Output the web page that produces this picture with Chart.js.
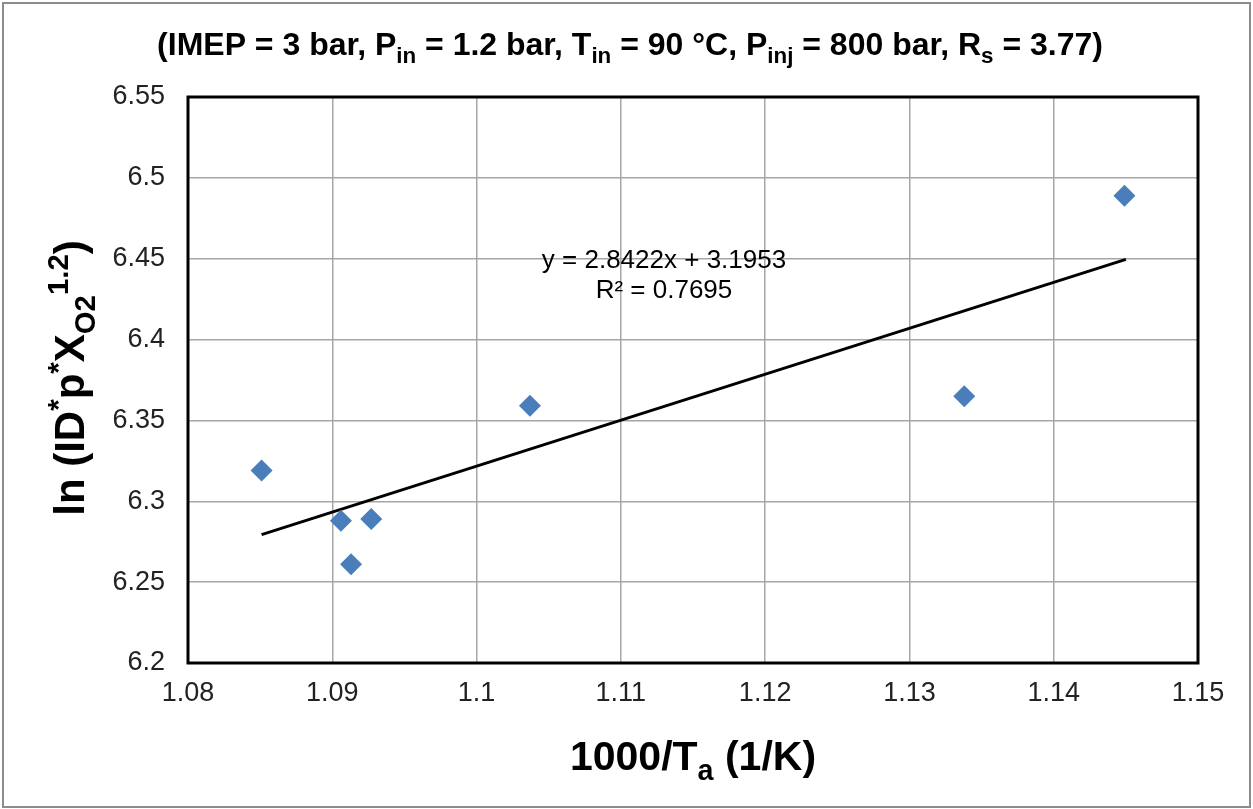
<!DOCTYPE html>
<html>
<head>
<meta charset="utf-8">
<script src="https://cdn.jsdelivr.net/npm/chart.js@4/dist/chart.umd.min.js"></script>
<style>
  html, body { margin: 0; padding: 0; background: #fff; }
  #wrap { width: 1253px; height: 809px; }
</style>
</head>
<body>
<div id="wrap"><canvas id="arrChart" width="1253" height="809"></canvas></div>
<script>
// measured points (1000/Ta vs ln(ID*p*XO2^1.2))
const xValues = [1.0851, 1.0906, 1.0913, 1.0927, 1.1037, 1.1338, 1.1449];
const yValues = [6.319, 6.288, 6.261, 6.289, 6.359, 6.365, 6.489];
// linear trendline end points as drawn
const trendX = [1.0851, 1.145];
const trendY = [6.2794, 6.4496];
const xTicks = [1.08, 1.09, 1.1, 1.11, 1.12, 1.13, 1.14, 1.15];
const yTicks = [6.2, 6.25, 6.3, 6.35, 6.4, 6.45, 6.5, 6.55];
const eqnText = "y = 2.8422x + 3.1953";
const r2Text = "R² = 0.7695";

const FONT = '"Liberation Sans", Arial, sans-serif';

// draw text made of pieces with sub/superscripts, centred on x
function richText(ctx, parts, x, y, size, bold, rotate) {
  ctx.save();
  ctx.translate(x, y);
  if (rotate) ctx.rotate(-Math.PI / 2);
  const w = bold ? 'bold ' : '';
  let total = 0;
  parts.forEach(p => {
    const s = p.sub || p.sup ? size * 0.7 : size;
    ctx.font = w + s + 'px ' + FONT;
    p.w = ctx.measureText(p.t).width;
    p.s = s;
    total += p.w;
  });
  let cx = -total / 2;
  ctx.fillStyle = '#000';
  ctx.textBaseline = 'alphabetic';
  ctx.textAlign = 'left';
  parts.forEach(p => {
    ctx.font = w + p.s + 'px ' + FONT;
    let dy = 0;
    if (p.sub) dy = size * 0.25;
    if (p.sup) dy = -size * 0.38;
    ctx.fillText(p.t, cx, dy);
    cx += p.w;
  });
  ctx.restore();
}

const decorPlugin = {
  id: 'decor',
  beforeDraw(chart) {
    const ctx = chart.ctx;
    ctx.save();
    ctx.fillStyle = '#fff';
    ctx.fillRect(0, 0, chart.width, chart.height);
    ctx.strokeStyle = '#8c8c8c';
    ctx.lineWidth = 2;
    ctx.strokeRect(3, 3, chart.width - 6, chart.height - 5);
    ctx.restore();
  },
  afterDatasetsDraw(chart) {
    const ctx = chart.ctx;
    const a = chart.chartArea;
    ctx.save();
    ctx.strokeStyle = '#000';
    ctx.lineWidth = 3;
    ctx.strokeRect(a.left, a.top, a.right - a.left, a.bottom - a.top);
    ctx.restore();

    // trendline label
    ctx.save();
    ctx.font = '26px ' + FONT;
    ctx.fillStyle = '#000';
    ctx.textAlign = 'center';
    ctx.textBaseline = 'middle';
    ctx.fillText(eqnText, 664, 261);
    ctx.fillText(r2Text, 664, 291);
    ctx.restore();

    // title
    richText(ctx, [
      {t: '(IMEP = 3 bar, P'}, {t: 'in', sub: true},
      {t: ' = 1.2 bar, T'}, {t: 'in', sub: true},
      {t: ' = 90 °C, P'}, {t: 'inj', sub: true},
      {t: ' = 800 bar, R'}, {t: 's', sub: true},
      {t: ' = 3.77)'}
    ], 630, 55, 32, true, false);

    // x axis title
    richText(ctx, [
      {t: '1000/T'}, {t: 'a', sub: true}, {t: ' (1/K)'}
    ], 693, 770, 41, true, false);

    // y axis title
    richText(ctx, [
      {t: 'ln (ID'}, {t: '*', sup: true}, {t: 'p'}, {t: '*', sup: true},
      {t: 'X'}, {t: 'O2', sub: true}, {t: '1.2', sup: true}, {t: ')'}
    ], 84, 378, 42, true, true);
  }
};

const pts = xValues.map((x, i) => ({x: x, y: yValues[i]}));
const trend = trendX.map((x, i) => ({x: x, y: trendY[i]}));

new Chart(document.getElementById('arrChart'), {
  type: 'scatter',
  data: {
    datasets: [{
      label: 'Data',
      data: pts,
      pointStyle: 'rectRot',
      pointRadius: 11,
      pointHoverRadius: 11,
      backgroundColor: '#4a7ebb',
      borderColor: '#4a7ebb',
      borderWidth: 0,
      order: 1
    }, {
      label: 'Linear fit',
      data: trend,
      type: 'line',
      showLine: true,
      borderColor: '#000',
      borderWidth: 3,
      pointRadius: 0,
      fill: false,
      order: 2
    }]
  },
  options: {
    responsive: false,
    animation: false,
    events: [],
    layout: { padding: { left: 0, top: 97, right: 55, bottom: 0 } },
    plugins: {
      legend: { display: false },
      tooltip: { enabled: false }
    },
    scales: {
      x: {
        type: 'linear',
        min: 1.08, max: 1.15,
        afterBuildTicks: s => { s.ticks = xTicks.map(v => ({value: v})); },
        afterFit: s => { s.height = 146; },
        grid: { color: '#a6a6a6', lineWidth: 1.5, drawTicks: false },
        border: { display: false },
        ticks: {
          padding: 14,
          color: '#222',
          font: { family: FONT, size: 27 },
          callback: v => String(+v.toFixed(2))
        }
      },
      y: {
        min: 6.2, max: 6.55,
        afterBuildTicks: s => { s.ticks = yTicks.map(v => ({value: v})); },
        afterFit: s => { s.width = 188; },
        grid: { color: '#a6a6a6', lineWidth: 1.5, drawTicks: false },
        border: { display: false },
        ticks: {
          padding: 23,
          color: '#222',
          font: { family: FONT, size: 27 },
          callback: v => String(+v.toFixed(2))
        }
      }
    }
  },
  plugins: [decorPlugin]
});
</script>
</body>
</html>
